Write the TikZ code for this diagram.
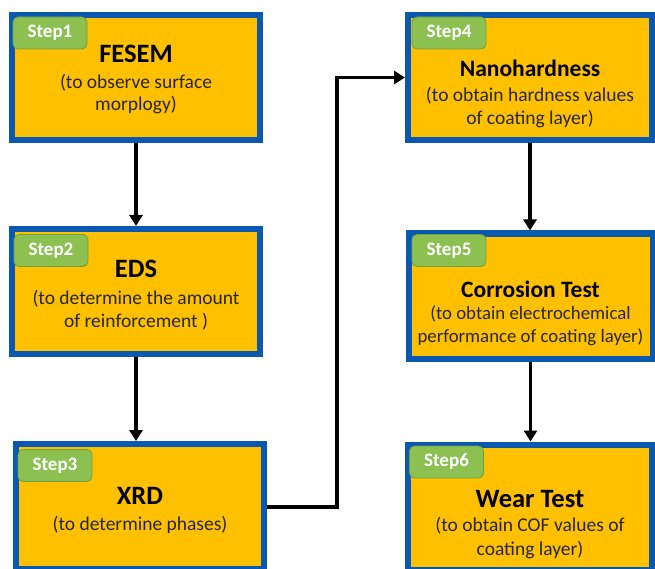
\documentclass[tikz,border=0pt]{standalone}
\usepackage{fontspec}
\setmainfont{Carlito}
\usetikzlibrary{arrows.meta,calc}
\definecolor{boxfill}{HTML}{FFC000}
\definecolor{boxblue}{HTML}{0A58B0}
\definecolor{tabgreen}{HTML}{8CC152}
\definecolor{tabedge}{HTML}{6E9E40}
\definecolor{bodytext}{HTML}{262626}
\begin{document}
\begin{tikzpicture}[x=1pt,y=-1pt,
  stepbox/.style={draw=boxblue, fill=boxfill, line width=6pt, inner sep=0pt, minimum height=125pt},
  lbox/.style={stepbox, minimum width=248pt},
  rbox/.style={stepbox, minimum width=244pt},
  steptab/.style={draw=tabedge, line width=0.8pt, fill=tabgreen, rounded corners=5pt,
    minimum width=74pt, minimum height=32pt, inner sep=0pt, text=white,
    font=\fontsize{19}{19}\selectfont\bfseries},
  bigtitle/.style={anchor=base, inner sep=0pt, font=\fontsize{26.5}{26.5}\selectfont\bfseries},
  midtitle/.style={anchor=base, inner sep=0pt, font=\fontsize{23.5}{23.5}\selectfont\bfseries},
  bodyline/.style={anchor=base, inner sep=0pt, text=bodytext, font=\fontsize{19.5}{19.5}\selectfont},
  smallbody/.style={bodyline, font=\fontsize{18.8}{18.8}\selectfont},
  flow/.style={line width=3.5pt, -{Triangle[width=13pt,length=11pt]}}]
\useasboundingbox (0,0) rectangle (655,569);
\fill[white] (0,0) rectangle (655,569);

% boxes
\node[lbox] (s1) at (136,77.5) {};
\node[lbox] (s2) at (136,291.5) {};
\node[lbox] (s3) at (140,506.5) {};
\node[rbox] (s4) at (530,77.5) {};
\node[rbox] (s5) at (530.5,296) {};
\node[rbox] (s6) at (530,507) {};

% tabs
\node[steptab] (t1) at (50,33) {Step1};
\node[steptab] (t2) at (51,250.5) {Step2};
\node[steptab] (t3) at (55,465.5) {Step3};
\node[steptab] (t4) at (449,33) {Step4};
\node[steptab] (t5) at (449,250.5) {Step5};
\node[steptab] (t6) at (446.5,462) {Step6};

% texts
\node[bigtitle] (h1) at ($(s1.center)+(0,-14.5)$) {FESEM};
\node[bodyline] (b1a) at ($(s1.center)+(0,11.5)$) {(to observe surface};
\node[bodyline] (b1b) at ($(s1.center)+(0,33.5)$) {morplogy)};

\node[bigtitle] (h2) at ($(s2.center)+(0,-14.5)$) {EDS};
\node[bodyline] (b2a) at ($(s2.center)+(0,12.5)$) {(to determine the amount};
\node[bodyline] (b2b) at ($(s2.center)+(0,35.5)$) {of reinforcement )};

\node[bigtitle] (h3) at ($(s3.center)+(0,-2.5)$) {XRD};
\node[bodyline] (b3a) at ($(s3.center)+(0,23.5)$) {(to determine phases)};

\node[midtitle] (h4) at ($(s4.center)+(0,-0.5)$) {Nanohardness};
\node[bodyline] (b4a) at ($(s4.center)+(0,24.5)$) {(to obtain hardness values};
\node[bodyline] (b4b) at ($(s4.center)+(0,47.5)$) {of coating layer)};

\node[midtitle] (h5) at ($(s5.center)+(0,1)$) {Corrosion Test};
\node[smallbody] (b5a) at ($(s5.center)+(0,23)$) {(to obtain electrochemical};
\node[smallbody] (b5b) at ($(s5.center)+(0,46)$) {performance of coating layer)};

\node[bigtitle] (h6) at ($(s6.center)+(0,0)$) {Wear Test};
\node[bodyline] (b6a) at ($(s6.center)+(0,24)$) {(to obtain COF values of};
\node[bodyline] (b6b) at ($(s6.center)+(0,48)$) {coating layer)};

% connectors
\coordinate (bend) at (337,507);
\draw[flow] (s1.south) -- (s1.south |- s2.north);
\draw[flow] (s2.south) -- (s2.south |- s3.north);
\draw[flow] (s3.east |- bend) -- (bend) |- (s4.west);
\draw[flow] (s4.south) -- (s4.south |- s5.north);
\draw[flow] (s5.south) -- (s5.south |- s6.north);
\end{tikzpicture}
\end{document}
